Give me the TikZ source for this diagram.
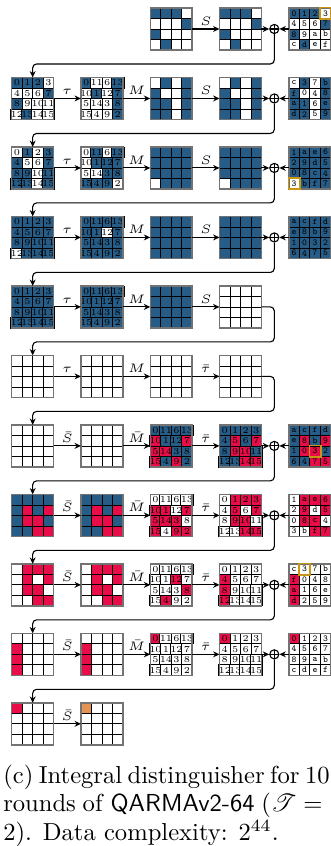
\documentclass[tikz,border=0pt]{standalone}
\usepackage{fontspec}
\usepackage{amsmath}
\usepackage{mathrsfs}
\usepackage{tikz}
\usetikzlibrary{arrows.meta}
\usepackage{xcolor}
\definecolor{qblue}{RGB}{38,92,133}
\definecolor{qred}{RGB}{232,12,72}
\definecolor{qorange}{RGB}{226,148,86}
\definecolor{keygold}{RGB}{200,150,20}
\colorlet{b}{qblue}
\colorlet{r}{qred}
\colorlet{w}{white}
\colorlet{o}{qorange}

\tikzset{
  statebox/.style={minimum size=0.6cm, inner sep=0pt, outer sep=0pt},
  cellbox/.style={draw=black, line width=0.3pt, minimum size=0.15cm, inner sep=0pt, font=\fontsize{3.7}{4}\selectfont},
  keycell/.style={cellbox, font=\fontsize{3.7}{4}\selectfont\ttfamily},
  gridframe/.style={draw=black!55, line width=0.6pt},
  hilite/.style={draw=keygold, line width=0.7pt},
  conn/.style={line width=0.45pt, -{Stealth[length=2.6pt, width=2.4pt]}},
  turn/.style={rounded corners=1.6pt},
  op/.style={midway, above, inner sep=1.2pt, font=\tiny},
  xorop/.style={circle, draw, line width=0.45pt, inner sep=0pt, minimum size=0.13cm,
    path picture={\draw[line width=0.45pt] (path picture bounding box.north) -- (path picture bounding box.south)
      (path picture bounding box.west) -- (path picture bounding box.east);}},
  capline/.style={anchor=base west, inner sep=0pt}
}

% plain 4x4 state: node, 16 colours
\newcommand{\stategrid}[2]{%
  \foreach \col [count=\k from 0] in {#2} {
    \pgfmathtruncatemacro{\ci}{mod(\k,4)}
    \pgfmathtruncatemacro{\ri}{floor(\k/4)}
    \node[cellbox, fill=\col] (#1-\k) at ([shift={(0.15*\ci+0.075,-0.15*\ri-0.075)}]#1.north west) {};
  }
  \draw[gridframe] (#1.north west) rectangle (#1.south east);
}
% labelled 4x4 state: node, 16 colour/label pairs
\newcommand{\numgrid}[3][cellbox]{%
  \foreach \col/\lbl [count=\k from 0] in {#3} {
    \pgfmathtruncatemacro{\ci}{mod(\k,4)}
    \pgfmathtruncatemacro{\ri}{floor(\k/4)}
    \node[#1, fill=\col] (#2-\k) at ([shift={(0.15*\ci+0.075,-0.15*\ri-0.075)}]#2.north west) {\lbl};
  }
  \draw[gridframe] (#2.north west) rectangle (#2.south east);
}

\begin{document}
\begin{tikzpicture}
    \useasboundingbox (0,0) rectangle (4.72,-12.09);

    % Round 1
    \node[statebox] (g1-3) at (2.447,-0.414) {};
    \node[statebox] (g1-4) at (3.437,-0.414) {};
    \node[statebox] (k1) at (4.427,-0.414) {};
    \node[xorop] (x1) at (3.92,-0.414) {};
    \stategrid{g1-3}{b,b,b,w, w,w,w,b, b,w,w,w, w,b,w,w}
    \stategrid{g1-4}{b,b,b,w, w,w,w,b, b,w,w,w, w,b,w,w}
    \numgrid[keycell]{k1}{b/0,b/1,b/2,w/3, w/4,w/5,w/6,b/7, b/8,w/9,w/a,w/b, w/c,b/d,w/e,w/f}
    \draw[hilite] (k1-3.north west) rectangle (k1-3.south east);
    \draw[conn] (g1-3) -- node[op] {$S$} (g1-4);
    \draw[conn] (g1-4) -- (x1);
    \draw[conn] (k1) -- (x1);

    % Round 2
    \node[statebox] (g2-1) at (0.467,-1.407) {};
    \node[statebox] (g2-2) at (1.457,-1.407) {};
    \node[statebox] (g2-3) at (2.447,-1.407) {};
    \node[statebox] (g2-4) at (3.437,-1.407) {};
    \node[statebox] (k2) at (4.427,-1.407) {};
    \node[xorop] (x2) at (3.92,-1.407) {};
    \numgrid{g2-1}{b/0,b/1,b/2,w/3, w/4,w/5,w/6,b/7, b/8,w/9,w/10,w/11, w/12,b/13,w/14,w/15}
    \numgrid{g2-2}{b/0,w/11,w/6,b/13, w/10,b/1,w/12,b/7, w/5,w/14,w/3,b/8, w/15,w/4,w/9,b/2}
    \stategrid{g2-3}{w,b,w,b, b,w,w,b, b,b,w,b, b,b,w,b}
    \stategrid{g2-4}{w,b,w,b, b,w,w,b, b,b,w,b, b,b,w,b}
    \numgrid[keycell]{k2}{w/c,b/3,w/7,b/b, b/f,w/0,w/4,b/8, b/a,b/1,w/6,b/e, b/d,b/2,w/5,b/9}
    \draw[conn, turn] (x1) -- ++(0,-0.5) -| (g2-1);
    \draw[conn] (g2-1) -- node[op] {$\tau$} (g2-2);
    \draw[conn] (g2-2) -- node[op] {$M$} (g2-3);
    \draw[conn] (g2-3) -- node[op] {$S$} (g2-4);
    \draw[conn] (g2-4) -- (x2);
    \draw[conn] (k2) -- (x2);

    % Round 3
    \node[statebox] (g3-1) at (0.467,-2.400) {};
    \node[statebox] (g3-2) at (1.457,-2.400) {};
    \node[statebox] (g3-3) at (2.447,-2.400) {};
    \node[statebox] (g3-4) at (3.437,-2.400) {};
    \node[statebox] (k3) at (4.427,-2.400) {};
    \node[xorop] (x3) at (3.92,-2.400) {};
    \numgrid{g3-1}{w/0,b/1,w/2,b/3, b/4,w/5,w/6,b/7, b/8,b/9,w/10,b/11, b/12,b/13,w/14,b/15}
    \numgrid{g3-2}{w/0,b/11,w/6,b/13, w/10,b/1,b/12,b/7, w/5,w/14,b/3,b/8, b/15,b/4,b/9,w/2}
    \stategrid{g3-3}{b,b,b,b, b,b,b,b, b,b,b,b, w,b,b,b}
    \stategrid{g3-4}{b,b,b,b, b,b,b,b, b,b,b,b, w,b,b,b}
    \numgrid[keycell]{k3}{b/1,b/a,b/e,b/6, b/2,b/9,b/d,b/5, b/0,b/8,b/c,b/4, w/3,b/b,b/f,b/7}
    \draw[hilite] (k3-12.north west) rectangle (k3-12.south east);
    \draw[conn, turn] (x2) -- ++(0,-0.5) -| (g3-1);
    \draw[conn] (g3-1) -- node[op] {$\tau$} (g3-2);
    \draw[conn] (g3-2) -- node[op] {$M$} (g3-3);
    \draw[conn] (g3-3) -- node[op] {$S$} (g3-4);
    \draw[conn] (g3-4) -- (x3);
    \draw[conn] (k3) -- (x3);

    % Round 4
    \node[statebox] (g4-1) at (0.467,-3.393) {};
    \node[statebox] (g4-2) at (1.457,-3.393) {};
    \node[statebox] (g4-3) at (2.447,-3.393) {};
    \node[statebox] (g4-4) at (3.437,-3.393) {};
    \node[statebox] (k4) at (4.427,-3.393) {};
    \node[xorop] (x4) at (3.92,-3.393) {};
    \numgrid{g4-1}{b/0,b/1,b/2,b/3, b/4,b/5,b/6,b/7, b/8,b/9,b/10,b/11, w/12,b/13,b/14,b/15}
    \numgrid{g4-2}{b/0,b/11,b/6,b/13, b/10,b/1,w/12,b/7, b/5,b/14,b/3,b/8, b/15,b/4,b/9,b/2}
    \stategrid{g4-3}{b,b,b,b, b,b,b,b, b,b,b,b, b,b,b,b}
    \stategrid{g4-4}{b,b,b,b, b,b,b,b, b,b,b,b, b,b,b,b}
    \numgrid[keycell]{k4}{b/a,b/c,b/f,b/d, b/e,b/8,b/b,b/9, b/1,b/0,b/3,b/2, b/6,b/4,b/7,b/5}
    \draw[conn, turn] (x3) -- ++(0,-0.5) -| (g4-1);
    \draw[conn] (g4-1) -- node[op] {$\tau$} (g4-2);
    \draw[conn] (g4-2) -- node[op] {$M$} (g4-3);
    \draw[conn] (g4-3) -- node[op] {$S$} (g4-4);
    \draw[conn] (g4-4) -- (x4);
    \draw[conn] (k4) -- (x4);

    % Round 5
    \node[statebox] (g5-1) at (0.467,-4.386) {};
    \node[statebox] (g5-2) at (1.457,-4.386) {};
    \node[statebox] (g5-3) at (2.447,-4.386) {};
    \node[statebox] (g5-4) at (3.437,-4.386) {};
    \coordinate (t5) at (3.92,-4.886);
    \numgrid{g5-1}{b/0,b/1,b/2,b/3, b/4,b/5,b/6,b/7, b/8,b/9,b/10,b/11, b/12,b/13,b/14,b/15}
    \numgrid{g5-2}{b/0,b/11,b/6,b/13, b/10,b/1,b/12,b/7, b/5,b/14,b/3,b/8, b/15,b/4,b/9,b/2}
    \stategrid{g5-3}{b,b,b,b, b,b,b,b, b,b,b,b, b,b,b,b}
    \stategrid{g5-4}{w,w,w,w, w,w,w,w, w,w,w,w, w,w,w,w}
    \draw[conn, turn] (x4) -- ++(0,-0.5) -| (g5-1);
    \draw[conn] (g5-1) -- node[op] {$\tau$} (g5-2);
    \draw[conn] (g5-2) -- node[op] {$M$} (g5-3);
    \draw[conn] (g5-3) -- node[op] {$S$} (g5-4);

    % Round 6 (middle)
    \node[statebox] (g6-1) at (0.467,-5.379) {};
    \node[statebox] (g6-2) at (1.457,-5.379) {};
    \node[statebox] (g6-3) at (2.447,-5.379) {};
    \node[statebox] (g6-4) at (3.437,-5.379) {};
    \coordinate (t6) at (3.92,-5.879);
    \stategrid{g6-1}{w,w,w,w, w,w,w,w, w,w,w,w, w,w,w,w}
    \stategrid{g6-2}{w,w,w,w, w,w,w,w, w,w,w,w, w,w,w,w}
    \stategrid{g6-3}{w,w,w,w, w,w,w,w, w,w,w,w, w,w,w,w}
    \stategrid{g6-4}{w,w,w,w, w,w,w,w, w,w,w,w, w,w,w,w}
    \draw[conn, turn] (g5-4) -| (t5) -| (g6-1);
    \draw[conn] (g6-1) -- node[op] {$\tau$} (g6-2);
    \draw[conn] (g6-2) -- node[op] {$M$} (g6-3);
    \draw[conn] (g6-3) -- node[op] {$\bar{\tau}$} (g6-4);

    % Round 7
    \node[statebox] (g7-1) at (0.467,-6.372) {};
    \node[statebox] (g7-2) at (1.457,-6.372) {};
    \node[statebox] (g7-3) at (2.447,-6.372) {};
    \node[statebox] (g7-4) at (3.437,-6.372) {};
    \node[statebox] (k7) at (4.427,-6.372) {};
    \node[xorop] (x7) at (3.92,-6.372) {};
    \stategrid{g7-1}{w,w,w,w, w,w,w,w, w,w,w,w, w,w,w,w}
    \stategrid{g7-2}{w,w,w,w, w,w,w,w, w,w,w,w, w,w,w,w}
    \numgrid{g7-3}{b/0,b/11,b/6,b/13, r/10,b/1,b/12,r/7, r/5,r/14,b/3,b/8, r/15,b/4,r/9,b/2}
    \numgrid{g7-4}{b/0,b/1,b/2,b/3, b/4,r/5,b/6,r/7, b/8,r/9,r/10,b/11, b/12,b/13,r/14,r/15}
    \numgrid[keycell]{k7}{b/a,b/c,b/f,b/d, b/e,r/8,b/b,r/9, b/1,r/0,r/3,b/2, b/6,b/4,r/7,r/5}
    \draw[hilite] (k7-10.north west) rectangle (k7-10.south east);
    \draw[conn, turn] (g6-4) -| (t6) -| (g7-1);
    \draw[conn] (g7-1) -- node[op] {$\bar{S}$} (g7-2);
    \draw[conn] (g7-2) -- node[op] {$\bar{M}$} (g7-3);
    \draw[conn] (g7-3) -- node[op] {$\bar{\tau}$} (g7-4);
    \draw[conn] (g7-4) -- (x7);
    \draw[conn] (k7) -- (x7);

    % Round 8
    \node[statebox] (g8-1) at (0.467,-7.365) {};
    \node[statebox] (g8-2) at (1.457,-7.365) {};
    \node[statebox] (g8-3) at (2.447,-7.365) {};
    \node[statebox] (g8-4) at (3.437,-7.365) {};
    \node[statebox] (k8) at (4.427,-7.365) {};
    \node[xorop] (x8) at (3.92,-7.365) {};
    \stategrid{g8-1}{b,b,b,b, b,r,b,r, b,r,r,b, b,b,r,r}
    \stategrid{g8-2}{b,b,b,b, b,r,b,r, b,r,r,b, b,b,r,r}
    \numgrid{g8-3}{w/0,w/11,w/6,w/13, r/10,r/1,w/12,r/7, r/5,r/14,r/3,w/8, r/15,w/4,r/9,r/2}
    \numgrid{g8-4}{w/0,r/1,r/2,r/3, w/4,r/5,w/6,r/7, w/8,r/9,r/10,w/11, w/12,w/13,r/14,r/15}
    \numgrid[keycell]{k8}{w/1,r/a,r/e,r/6, w/2,r/9,w/d,r/5, w/0,r/8,r/c,w/4, w/3,w/b,r/f,r/7}
    \draw[conn, turn] (x7) -- ++(0,-0.5) -| (g8-1);
    \draw[conn] (g8-1) -- node[op] {$\bar{S}$} (g8-2);
    \draw[conn] (g8-2) -- node[op] {$\bar{M}$} (g8-3);
    \draw[conn] (g8-3) -- node[op] {$\bar{\tau}$} (g8-4);
    \draw[conn] (g8-4) -- (x8);
    \draw[conn] (k8) -- (x8);

    % Round 9
    \node[statebox] (g9-1) at (0.467,-8.358) {};
    \node[statebox] (g9-2) at (1.457,-8.358) {};
    \node[statebox] (g9-3) at (2.447,-8.358) {};
    \node[statebox] (g9-4) at (3.437,-8.358) {};
    \node[statebox] (k9) at (4.427,-8.358) {};
    \node[xorop] (x9) at (3.92,-8.358) {};
    \stategrid{g9-1}{w,r,r,r, w,r,w,r, w,r,r,w, w,w,r,r}
    \stategrid{g9-2}{w,r,r,r, w,r,w,r, w,r,r,w, w,w,r,r}
    \numgrid{g9-3}{w/0,w/11,w/6,w/13, w/10,w/1,r/12,w/7, w/5,w/14,w/3,r/8, w/15,r/4,w/9,w/2}
    \numgrid{g9-4}{w/0,w/1,w/2,w/3, r/4,w/5,w/6,w/7, r/8,w/9,w/10,w/11, r/12,w/13,w/14,w/15}
    \numgrid[keycell]{k9}{w/c,w/3,w/7,w/b, r/f,w/0,w/4,w/8, r/a,w/1,w/6,w/e, r/d,w/2,w/5,w/9}
    \draw[hilite] (k9-1.north west) rectangle (k9-1.south east);
    \draw[conn, turn] (x8) -- ++(0,-0.5) -| (g9-1);
    \draw[conn] (g9-1) -- node[op] {$\bar{S}$} (g9-2);
    \draw[conn] (g9-2) -- node[op] {$\bar{M}$} (g9-3);
    \draw[conn] (g9-3) -- node[op] {$\bar{\tau}$} (g9-4);
    \draw[conn] (g9-4) -- (x9);
    \draw[conn] (k9) -- (x9);

    % Round 10
    \node[statebox] (g10-1) at (0.467,-9.351) {};
    \node[statebox] (g10-2) at (1.457,-9.351) {};
    \node[statebox] (g10-3) at (2.447,-9.351) {};
    \node[statebox] (g10-4) at (3.437,-9.351) {};
    \node[statebox] (k10) at (4.427,-9.351) {};
    \node[xorop] (x10) at (3.92,-9.351) {};
    \stategrid{g10-1}{w,w,w,w, r,w,w,w, r,w,w,w, r,w,w,w}
    \stategrid{g10-2}{w,w,w,w, r,w,w,w, r,w,w,w, r,w,w,w}
    \numgrid{g10-3}{r/0,w/11,w/6,w/13, w/10,w/1,w/12,w/7, w/5,w/14,w/3,w/8, w/15,w/4,w/9,w/2}
    \numgrid{g10-4}{r/0,w/1,w/2,w/3, w/4,w/5,w/6,w/7, w/8,w/9,w/10,w/11, w/12,w/13,w/14,w/15}
    \numgrid[keycell]{k10}{r/0,w/1,w/2,w/3, w/4,w/5,w/6,w/7, w/8,w/9,w/a,w/b, w/c,w/d,w/e,w/f}
    \draw[conn, turn] (x9) -- ++(0,-0.5) -| (g10-1);
    \draw[conn] (g10-1) -- node[op] {$\bar{S}$} (g10-2);
    \draw[conn] (g10-2) -- node[op] {$\bar{M}$} (g10-3);
    \draw[conn] (g10-3) -- node[op] {$\bar{\tau}$} (g10-4);
    \draw[conn] (g10-4) -- (x10);
    \draw[conn] (k10) -- (x10);

    % Round 11
    \node[statebox] (g11-1) at (0.467,-10.344) {};
    \node[statebox] (g11-2) at (1.457,-10.344) {};
    \stategrid{g11-1}{r,w,w,w, w,w,w,w, w,w,w,w, w,w,w,w}
    \stategrid{g11-2}{o,w,w,w, w,w,w,w, w,w,w,w, w,w,w,w}
    \draw[conn, turn] (x10) -- ++(0,-0.5) -| (g11-1);
    \draw[conn] (g11-1) -- node[op] {$\bar{S}$} (g11-2);

    % Caption
    \node[capline] (cap1) at (0.04,-11.19) {\makebox[4.66cm][s]{(c) Integral distinguisher for 10}};
    \node[capline] (cap2) at (0.04,-11.60) {\makebox[4.66cm][s]{rounds of \textsf{QARMAv2-64} ($\mathscr{T} ={}$}};
    \node[capline] (cap3) at (0.04,-12.01) {2). Data complexity: $2^{44}$.};
\end{tikzpicture}
\end{document}
